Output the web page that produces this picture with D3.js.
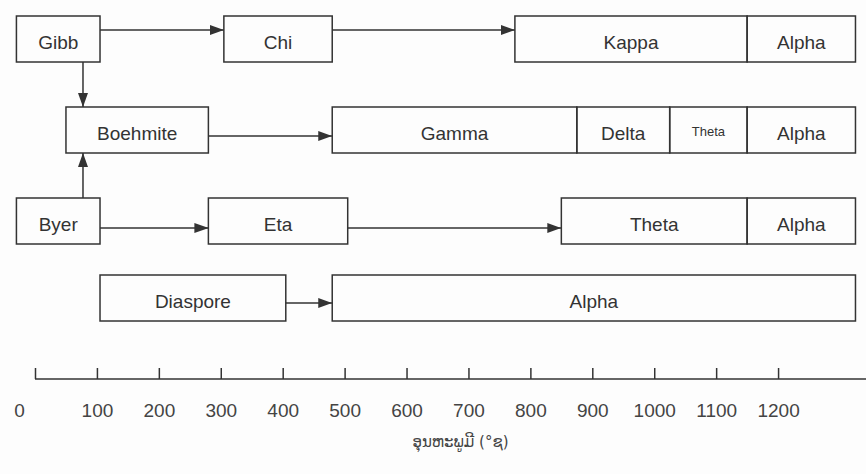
<!DOCTYPE html>
<html>
<head>
<meta charset="utf-8">
<script src="https://cdn.jsdelivr.net/npm/d3@7"></script>
<style>
	body { margin: 0; background: #fdfdfd; }
	svg { display: block; font-family: "Liberation Sans", Arial, sans-serif; }
	.box { fill: none; stroke: #333; stroke-width: 1.5; }
	.label { fill: #333; font-size: 19px; text-anchor: middle; }
	.link { stroke: #333; stroke-width: 1.5; }
	.axis path, .axis line { stroke: #333; stroke-width: 1.5; }
	.axis text { fill: #444; font-size: 19px; font-family: "Liberation Sans", Arial, sans-serif; }
</style>
</head>
<body>
<script>

// SVG size
let width = 866,
	height = 474;

// rows of the diagram (starting hydroxide)
const rows = ["Gibb", "Boehmite", "Byer", "Diaspore"];

// phases: label, row index, temperature range (°C)
const phaseLabels = ["Gibb", "Chi", "Kappa", "Alpha",
	"Boehmite", "Gamma", "Delta", "Theta", "Alpha",
	"Byer", "Eta", "Theta", "Alpha",
	"Diaspore", "Alpha"];
const phaseRows = [0, 0, 0, 0, 1, 1, 1, 1, 1, 2, 2, 2, 2, 3, 3];
const phaseFrom = [-30, 305, 775, 1150, 50, 480, 875, 1025, 1150, -30, 280, 850, 1150, 105, 480];
const phaseTo = [105, 480, 1150, 1325, 280, 875, 1025, 1150, 1325, 105, 505, 1150, 1325, 405, 1325];

// horizontal transitions (index into phases)
const arrowFrom = [0, 1, 4, 9, 10, 13];
const arrowTo = [1, 2, 5, 10, 11, 14];

// vertical transitions into Boehmite
const upDownFrom = [0, 9];
const upDownTo = [4, 4];

// temperature ticks
const tickValues = [0, 100, 200, 300, 400, 500, 600, 700, 800, 900, 1000, 1100, 1200];
const axisTitle = "ອຸນຫະພູມີ (°ຊ)";

const phases = phaseLabels.map(function(d, i) {
	return {label: d, row: phaseRows[i], from: phaseFrom[i], to: phaseTo[i]};
});

const svg = d3.select("body").append("svg")
	.attr("width", width)
	.attr("height", height);

// temperature scale, the axis line runs on to the right edge
const x = d3.scaleLinear()
	.domain([0, 1342])
	.range([35, 866]);

// row tops and where the arrows sit in each row
const rowTop = d3.scaleOrdinal().domain(d3.range(rows.length)).range([16, 107, 198, 275]);
const arrowOffset = d3.scaleOrdinal().domain(d3.range(rows.length)).range([14, 29, 30, 28]);
const boxHeight = 46;

// small text only in very narrow boxes
const narrow = function(d) { return x(d.to) - x(d.from) < 80; };

// arrow head
svg.append("defs").append("marker")
	.attr("id", "head")
	.attr("viewBox", "0 0 14 10")
	.attr("refX", 14)
	.attr("refY", 5)
	.attr("markerWidth", 14)
	.attr("markerHeight", 10)
	.attr("markerUnits", "userSpaceOnUse")
	.attr("orient", "auto")
	.append("path")
	.attr("d", "M0,0L14,5L0,10Z")
	.attr("fill", "#333");

// phase boxes
svg.selectAll("rect.box")
	.data(phases)
	.enter()
	.append("rect")
	.attr("class", "box")
	.attr("x", function(d) { return x(d.from); })
	.attr("y", function(d) { return rowTop(d.row); })
	.attr("width", function(d) { return x(d.to) - x(d.from); })
	.attr("height", boxHeight);

// phase names
svg.selectAll("text.label")
	.data(phases)
	.enter()
	.append("text")
	.attr("class", "label")
	.attr("x", function(d) { return (x(d.from) + x(d.to)) / 2; })
	.attr("y", function(d) { return rowTop(d.row) + boxHeight / 2 + (narrow(d) ? 6 : 10); })
	.style("font-size", function(d) { return narrow(d) ? "13px" : null; })
	.text(function(d) { return d.label; });

// horizontal arrows
svg.selectAll("line.h")
	.data(arrowFrom)
	.enter()
	.append("line")
	.attr("class", "link")
	.attr("x1", function(d) { return x(phases[d].to); })
	.attr("x2", function(d, i) { return x(phases[arrowTo[i]].from); })
	.attr("y1", function(d) { return rowTop(phases[d].row) + arrowOffset(phases[d].row); })
	.attr("y2", function(d) { return rowTop(phases[d].row) + arrowOffset(phases[d].row); })
	.attr("marker-end", "url(#head)");

// vertical arrows (Gibb down, Byer up)
svg.selectAll("line.v")
	.data(upDownFrom)
	.enter()
	.append("line")
	.attr("class", "link")
	.attr("x1", function(d, i) { return x((phases[d].to + phases[upDownTo[i]].from) / 2); })
	.attr("x2", function(d, i) { return x((phases[d].to + phases[upDownTo[i]].from) / 2); })
	.attr("y1", function(d) {
		let p = phases[d];
		return p.row < 1 ? rowTop(p.row) + boxHeight : rowTop(p.row);
	})
	.attr("y2", function(d, i) {
		let p = phases[d], t = phases[upDownTo[i]];
		return p.row < t.row ? rowTop(t.row) : rowTop(t.row) + boxHeight;
	})
	.attr("marker-end", "url(#head)");

// temperature axis, ticks point up
const axis = d3.axisBottom(x)
	.tickValues(tickValues)
	.tickSizeInner(-11)
	.tickSizeOuter(0)
	.tickPadding(25)
	.tickFormat(d3.format("d"));

const gAxis = svg.append("g")
	.attr("class", "axis")
	.attr("transform", "translate(0,379)")
	.call(axis);

gAxis.select(".domain").attr("d", "M" + x(0) + ",0H" + x(1342));
gAxis.selectAll(".tick text")
	.attr("dx", function(d) { return d === 0 ? -16 : 0; });

// axis title
svg.append("text")
	.attr("x", (x(0) + x(1342)) / 2 + 10)
	.attr("y", 447)
	.attr("text-anchor", "middle")
	.attr("fill", "#444")
	.style("font-family", "'DejaVu Sans', 'Noto Sans', sans-serif")
	.style("font-size", "15px")
	.text(axisTitle);

</script>
</body>
</html>
